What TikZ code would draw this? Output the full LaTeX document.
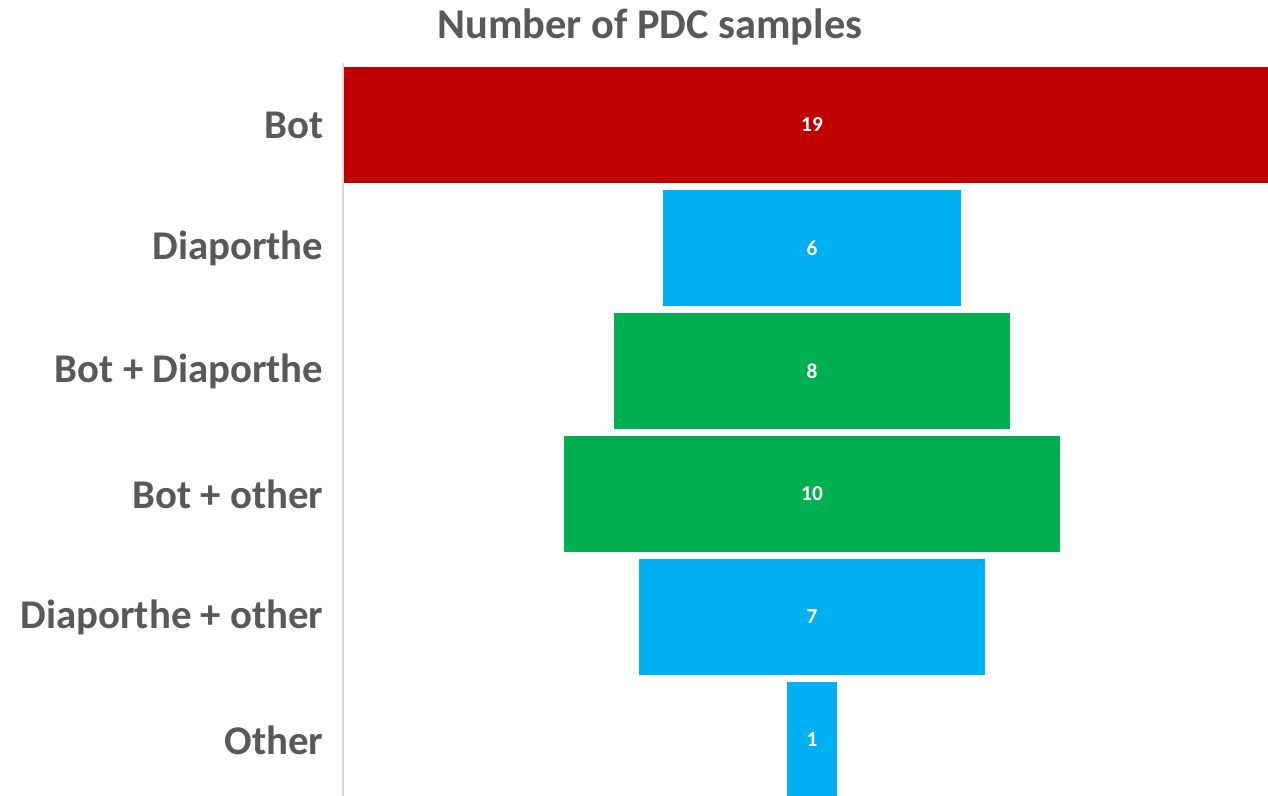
\documentclass[tikz,border=0pt]{standalone}
\usepackage{fontspec}
\setmainfont{Carlito}
\definecolor{botred}{HTML}{C00000}
\definecolor{diablue}{HTML}{00B0F0}
\definecolor{mixgreen}{HTML}{00B050}
\definecolor{labelgray}{HTML}{595959}
\definecolor{axisgray}{HTML}{D9D9D9}

\begin{document}
\begin{tikzpicture}[x=0.75pt, y=-0.75pt,
  bar/.style={inner sep=0pt, minimum height=87pt, text=white,
    font=\fontsize{16}{19}\selectfont\bfseries},
  cat/.style={anchor=east, text=labelgray,
    font=\fontsize{30.6}{34}\selectfont\bfseries}]

  \useasboundingbox (0,0) rectangle (1268,796);

  % Title
  \node[text=labelgray, font=\fontsize{31.8}{36}\selectfont\bfseries] (title) at (650,27) {Number of PDC samples};

  % Bars (centred at x=812, one unit = 49.5px)
  \node[bar, fill=botred,   minimum width=705.4pt] (bot)    at (812,125) {19};
  \node[bar, fill=diablue,  minimum width=222.8pt] (dia)    at (812,248) {6};
  \node[bar, fill=mixgreen, minimum width=297pt]   (botdia) at (812,371) {8};
  \node[bar, fill=mixgreen, minimum width=371.3pt] (bototh) at (812,494) {10};
  \node[bar, fill=diablue,  minimum width=259.9pt] (diaoth) at (812,617) {7};
  \node[bar, fill=diablue,  minimum width=37.5pt]  (oth)    at (812,740) {1};

  % Axis
  \coordinate (axtop) at (343,63);
  \coordinate (axbot) at (343,796);
  \draw[axisgray, line width=1.2pt] (axtop) -- (axbot);

  % Category labels
  \node[cat] (lbot)    at (328,125) {Bot};
  \node[cat] (ldia)    at (328,248) {Diaporthe};
  \node[cat] (lbotdia) at (328,371) {Bot + Diaporthe};
  \node[cat] (lbototh) at (328,494) {Bot + other};
  \node[cat] (ldiaoth) at (328,617) {Diaporthe + other};
  \node[cat] (loth)    at (328,740) {Other};

\end{tikzpicture}
\end{document}
